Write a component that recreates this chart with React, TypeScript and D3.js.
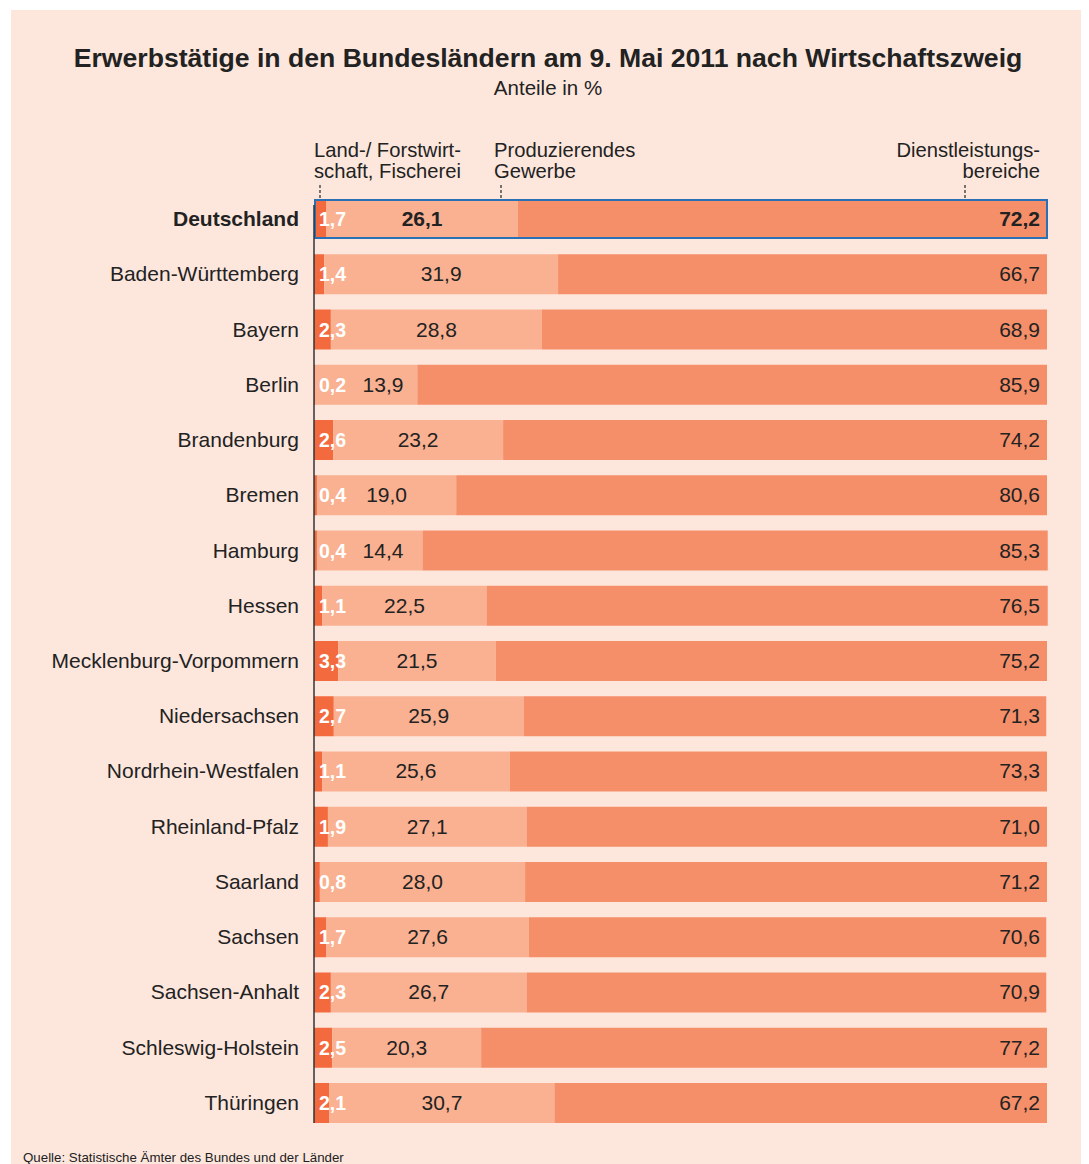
import React from 'react';
import * as d3 from 'd3';

const laender = [
  'Deutschland', 'Baden-Württemberg', 'Bayern', 'Berlin', 'Brandenburg', 'Bremen', 'Hamburg',
  'Hessen', 'Mecklenburg-Vorpommern', 'Niedersachsen', 'Nordrhein-Westfalen', 'Rheinland-Pfalz',
  'Saarland', 'Sachsen', 'Sachsen-Anhalt', 'Schleswig-Holstein', 'Thüringen',
];
const landwirtschaft = [1.7, 1.4, 2.3, 0.2, 2.6, 0.4, 0.4, 1.1, 3.3, 2.7, 1.1, 1.9, 0.8, 1.7, 2.3, 2.5, 2.1];
const produzierend = [26.1, 31.9, 28.8, 13.9, 23.2, 19.0, 14.4, 22.5, 21.5, 25.9, 25.6, 27.1, 28.0, 27.6, 26.7, 20.3, 30.7];
const dienstleistung = [72.2, 66.7, 68.9, 85.9, 74.2, 80.6, 85.3, 76.5, 75.2, 71.3, 73.3, 71.0, 71.2, 70.6, 70.9, 77.2, 67.2];

const keys = ['land', 'prod', 'dienst'];
const colors: Record<string, string> = { land: '#f36a3f', prod: '#f9b191', dienst: '#f58f69' };
const font = 'Liberation Sans, Arial, sans-serif';
const fmt = (v: number) => v.toFixed(1).replace('.', ',');

const App = () => {
  const svgRef = React.useRef<SVGSVGElement>(null);

  React.useEffect(() => {
    const svg = d3.select(svgRef.current);
    svg.selectAll('*').remove();

    const rows = laender.map((name, i) => ({
      name, land: landwirtschaft[i], prod: produzierend[i], dienst: dienstleistung[i],
    }));

    const x = d3.scaleLinear().domain([0, 100]).range([314, 1047]);
    const y = d3.scaleBand().domain(laender).range([199, 1123]).paddingInner(0.276).paddingOuter(0);

    // everything in page coordinates (body margin is 8px)
    const g = svg.append('g').attr('transform', 'translate(-8,-8)').attr('font-family', font);

    g.append('rect').attr('x', 11).attr('y', 10).attr('width', 1074).attr('height', 1160).attr('fill', '#fde7dd');

    g.append('text').attr('x', 548).attr('y', 67).attr('text-anchor', 'middle')
      .attr('font-size', 26.6).attr('font-weight', 'bold').attr('fill', '#222')
      .text('Erwerbstätige in den Bundesländern am 9. Mai 2011 nach Wirtschaftszweig');
    g.append('text').attr('x', 548).attr('y', 95).attr('text-anchor', 'middle')
      .attr('font-size', 20.5).attr('fill', '#222').text('Anteile in %');

    // column headers
    const headers = [
      { lines: ['Land-/ Forstwirt-', 'schaft, Fischerei'], x: 314, anchor: 'start', tick: 320 },
      { lines: ['Produzierendes', 'Gewerbe'], x: 494, anchor: 'start', tick: 501 },
      { lines: ['Dienstleistungs-', 'bereiche'], x: 1040, anchor: 'end', tick: 965 },
    ];
    headers.forEach(h => {
      h.lines.forEach((l, k) => {
        g.append('text').attr('x', h.x).attr('y', 157 + k * 21).attr('text-anchor', h.anchor)
          .attr('font-size', 20.2).attr('fill', '#222').text(l);
      });
      g.append('line').attr('x1', h.tick).attr('x2', h.tick).attr('y1', 185).attr('y2', 199)
        .attr('stroke', '#333').attr('stroke-width', 1.3).attr('stroke-dasharray', '3,2');
    });

    const stack = d3.stack<any>().keys(keys)(rows);

    stack.forEach(layer => {
      g.selectAll(null).data(layer).join('rect')
        .attr('x', d => x(d[0]))
        .attr('width', d => x(d[1]) - x(d[0]))
        .attr('y', d => y(d.data.name)!)
        .attr('height', y.bandwidth())
        .attr('fill', colors[layer.key]);
    });

    // highlight Deutschland
    g.append('rect').attr('x', x(0) + 1).attr('y', y('Deutschland')! + 1)
      .attr('width', x(100) - x(0) - 1).attr('height', y.bandwidth() - 2)
      .attr('fill', 'none').attr('stroke', '#2a70b6').attr('stroke-width', 2);

    // axis line
    g.append('line').attr('x1', x(0)).attr('x2', x(0)).attr('y1', 205).attr('y2', 1123)
      .attr('stroke', '#333').attr('stroke-width', 1.5);

    rows.forEach(r => {
      const cy = y(r.name)! + y.bandwidth() / 2 + 7;
      const bold = r.name === 'Deutschland' ? 'bold' : 'normal';
      g.append('text').attr('x', 299).attr('y', cy).attr('text-anchor', 'end')
        .attr('font-size', 21).attr('font-weight', bold).attr('fill', '#222').text(r.name);
      g.append('text').attr('x', x(0) + 5).attr('y', cy).attr('font-size', 19.5)
        .attr('font-weight', 'bold').attr('fill', '#fff').text(fmt(r.land));
      const c = (x(r.land) + x(r.land + r.prod)) / 2;
      const tx = Math.max(c, 383);
      g.append('text').attr('x', tx).attr('y', cy).attr('text-anchor', 'middle')
        .attr('font-size', 21).attr('font-weight', bold).attr('fill', '#222').text(fmt(r.prod));
      g.append('text').attr('x', 1040).attr('y', cy).attr('text-anchor', 'end')
        .attr('font-size', 21).attr('font-weight', bold).attr('fill', '#222').text(fmt(r.dienst));
    });

    g.append('text').attr('x', 23).attr('y', 1162).attr('font-size', 13.3).attr('fill', '#222')
      .text('Quelle: Statistische Ämter des Bundes und der Länder');
  }, []);

  return <svg ref={svgRef} width={1081} height={1156} style={{ display: 'block' }} />;
};

export default App;
